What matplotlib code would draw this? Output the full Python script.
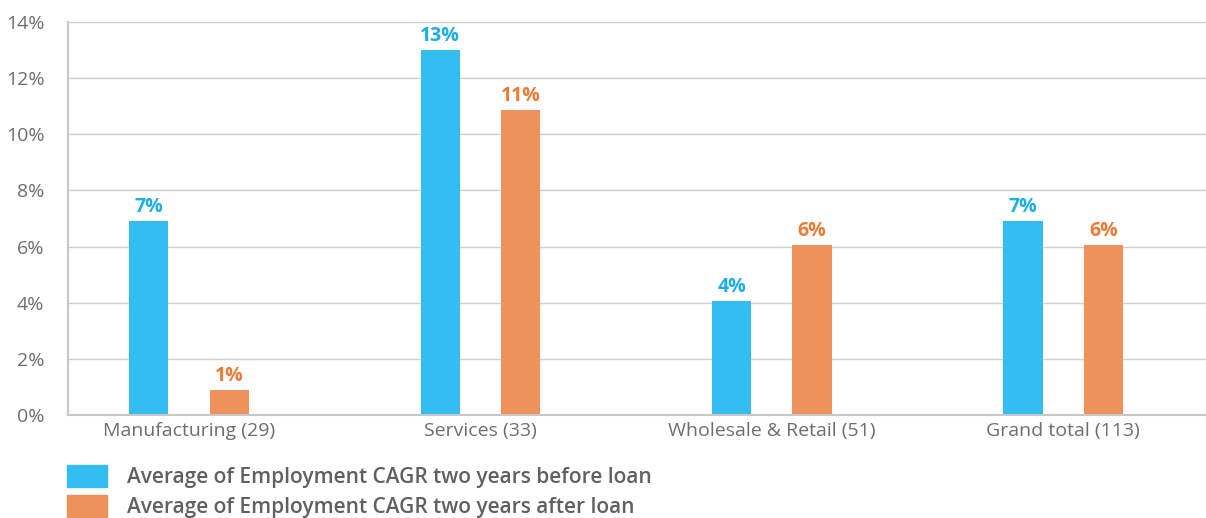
import matplotlib
matplotlib.use("Agg")
import matplotlib.pyplot as plt
from matplotlib.patches import Rectangle
from matplotlib.ticker import FuncFormatter
import numpy as np

# data (percent)
categories = ["Manufacturing (29)", "Services (33)", "Wholesale & Retail (51)", "Grand total (113)"]
before_loan = [6.9, 13.0, 4.05, 6.9]
after_loan = [0.9, 10.85, 6.05, 6.05]
before_labels = ["7%", "13%", "4%", "7%"]
after_labels = ["1%", "11%", "6%", "6%"]
series_names = ["Average of Employment CAGR two years before loan",
                "Average of Employment CAGR two years after loan"]

BLUE = "#33bdf0"
ORANGE = "#ef915a"
BLUE_TXT = "#1aaeea"
ORANGE_TXT = "#ee7a35"
GREY_TXT = "#6d6e71"

plt.rcParams['font.family'] = ['Open Sans', 'DejaVu Sans']

W, H = 1206, 518
fig = plt.figure(figsize=(W / 100, H / 100), dpi=100)
ax = fig.add_axes([68 / W, (H - 415) / H, (W - 68) / W, (415 - 22) / H])

x = np.arange(len(categories))
offset = 0.138
width = 0.134
b1 = ax.bar(x - offset, before_loan, width, color=BLUE)
b2 = ax.bar(x + offset, after_loan, width, color=ORANGE)

for rect, lab in zip(b1, before_labels):
    ax.annotate(lab, (rect.get_x() + rect.get_width() / 2, rect.get_height()),
                xytext=(0, 3), textcoords="offset points", ha="center", va="bottom",
                color=BLUE_TXT, fontsize=14, fontweight="bold")
for rect, lab in zip(b2, after_labels):
    ax.annotate(lab, (rect.get_x() + rect.get_width() / 2, rect.get_height()),
                xytext=(0, 3), textcoords="offset points", ha="center", va="bottom",
                color=ORANGE_TXT, fontsize=14, fontweight="bold")

ax.set_xlim(-0.415, 3.49)
ax.set_ylim(0, 14)
ax.set_yticks(np.arange(0, 15, 2))
ax.yaxis.set_major_formatter(FuncFormatter(lambda v, p: f"{v:.0f}%"))
ax.set_xticks(x)
ax.set_xticklabels(categories)
ax.tick_params(length=0, labelsize=14, colors=GREY_TXT)
ax.tick_params(axis="y", pad=17)
ax.tick_params(axis="x", pad=5)

ax.grid(axis="y", color="#cfcfcf", linewidth=1)
ax.set_axisbelow(True)
for s in ["top", "right"]:
    ax.spines[s].set_visible(False)
for s in ["left", "bottom"]:
    ax.spines[s].set_color("#c8c8c8")
    ax.spines[s].set_linewidth(1.5)

# legend drawn manually below the plot
for i, (name, col) in enumerate(zip(series_names, [BLUE, ORANGE])):
    y0 = H - 487 - i * 30
    fig.add_artist(Rectangle((67 / W, y0 / H), 40 / W, 22 / H, color=col,
                             transform=fig.transFigure))
    fig.text(127 / W, (y0 + 10) / H, name, va="center", ha="left",
             fontsize=15, fontweight="semibold", color="#5f6062")

fig.savefig("out.png", dpi=100)
